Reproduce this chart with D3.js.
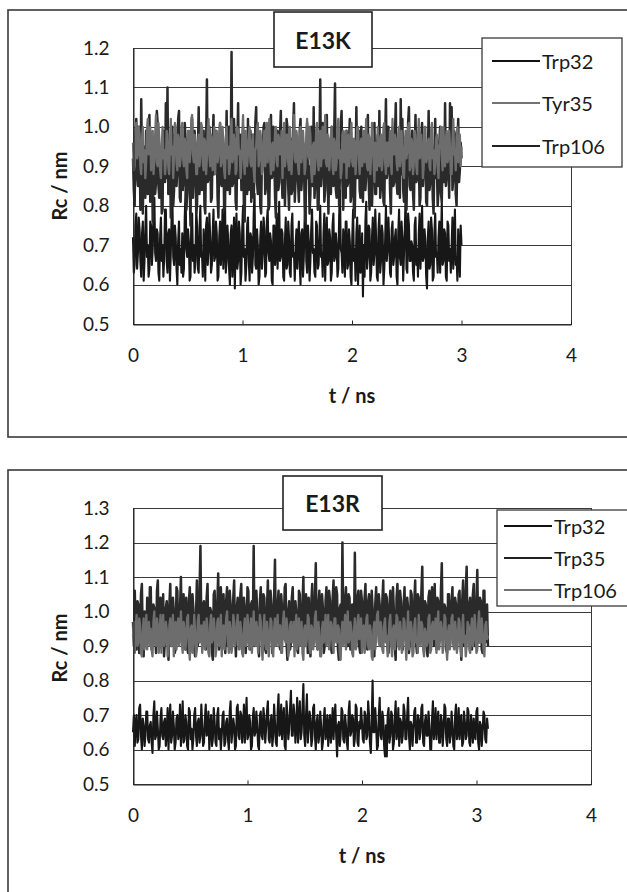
<!DOCTYPE html>
<html><head><meta charset="utf-8">
<script src="https://cdn.jsdelivr.net/npm/d3@7"></script>
<style>body{margin:0;background:#fff}svg{display:block}text{font-family:"Lato","Open Sans",sans-serif;fill:#1a1a1a}</style>
</head><body>
<script>
// ---- data (Rc / nm, sampled evenly in t / ns) ----
const xTicks = [0, 1, 2, 3, 4];
const yTicksTop = [0.5, 0.6, 0.7, 0.8, 0.9, 1.0, 1.1, 1.2];
const yTicksBottom = [0.5, 0.6, 0.7, 0.8, 0.9, 1.0, 1.1, 1.2, 1.3];
const tEndTop = 3.0;
const tEndBottom = 3.1;
const namesTop = ["Trp32", "Tyr35", "Trp106"];
const namesBottom = ["Trp32", "Trp35", "Trp106"];

const e13kTrp32 = [
0.72,0.63,0.65,0.75,0.78,0.64,0.68,0.77,0.74,0.66,0.62,0.73,0.76,0.61,0.66,0.74,0.80,0.67,0.70,0.62,
0.64,0.76,0.75,0.65,0.69,0.78,0.82,0.68,0.66,0.74,0.73,0.63,0.61,0.72,0.77,0.66,0.70,0.62,0.67,0.79,
0.79,0.66,0.63,0.73,0.74,0.61,0.68,0.77,0.81,0.67,0.65,0.75,0.72,0.64,0.60,0.71,0.76,0.65,0.69,0.63,
0.73,0.62,0.64,0.77,0.84,0.69,0.67,0.74,0.71,0.61,0.62,0.76,0.78,0.66,0.70,0.63,0.66,0.79,0.75,0.64,
0.63,0.74,0.80,0.67,0.68,0.62,0.74,0.70,0.61,0.75,0.77,0.65,0.69,0.78,0.72,0.63,0.65,0.73,0.79,0.66,
0.67,0.76,0.73,0.61,0.62,0.72,0.76,0.65,0.70,0.79,0.64,0.70,0.82,0.63,0.66,0.75,0.71,0.64,0.60,0.73,
0.75,0.62,0.68,0.77,0.59,0.71,0.78,0.64,0.66,0.76,0.73,0.60,0.63,0.74,0.80,0.67,0.69,0.61,0.65,0.75,
0.77,0.66,0.61,0.73,0.72,0.63,0.67,0.78,0.83,0.65,0.64,0.74,0.70,0.60,0.62,0.72,0.76,0.64,0.68,0.77,
0.74,0.62,0.63,0.76,0.79,0.68,0.66,0.73,0.71,0.61,0.60,0.75,0.75,0.65,0.69,0.78,0.64,0.70,0.81,0.66,
0.67,0.74,0.73,0.62,0.61,0.71,0.77,0.64,0.65,0.76,0.72,0.63,0.62,0.75,0.78,0.67,0.68,0.61,0.70,0.74,
0.64,0.72,0.76,0.65,0.60,0.73,0.74,0.62,0.67,0.77,0.82,0.66,0.63,0.75,0.71,0.61,0.66,0.74,0.79,0.68,
0.69,0.63,0.62,0.76,0.75,0.64,0.65,0.72,0.80,0.67,0.68,0.62,0.73,0.78,0.61,0.70,0.77,0.65,0.66,0.74,
0.72,0.61,0.63,0.75,0.78,0.66,0.67,0.73,0.70,0.62,0.64,0.77,0.84,0.69,0.68,0.63,0.74,0.71,0.62,0.76,
0.76,0.64,0.65,0.74,0.71,0.62,0.60,0.72,0.79,0.66,0.69,0.61,0.73,0.77,0.60,0.68,0.75,0.63,0.66,0.73,
0.57,0.70,0.62,0.76,0.81,0.64,0.67,0.75,0.74,0.61,0.63,0.72,0.77,0.65,0.68,0.79,0.72,0.62,0.61,0.74,
0.78,0.63,0.66,0.75,0.73,0.60,0.64,0.71,0.80,0.66,0.69,0.77,0.71,0.63,0.62,0.74,0.76,0.65,0.67,0.72,
0.74,0.62,0.60,0.73,0.79,0.67,0.65,0.76,0.72,0.61,0.68,0.74,0.83,0.64,0.63,0.78,0.75,0.66,0.66,0.71,
0.70,0.63,0.61,0.75,0.77,0.65,0.69,0.62,0.73,0.78,0.64,0.70,0.80,0.66,0.67,0.74,0.71,0.62,0.59,0.72,
0.76,0.64,0.65,0.77,0.74,0.61,0.62,0.73,0.78,0.67,0.68,0.63,0.72,0.76,0.63,0.70,0.81,0.65,0.66,0.74,
0.73,0.62,0.61,0.76,0.75,0.66,0.69,0.63,0.70,0.77,0.64,0.71,0.79,0.65,0.67,0.61,0.74,0.68,0.62,0.75,
0.70];

const e13kTrp106 = [
0.92,0.84,0.80,0.97,1.02,0.88,0.85,1.00,0.96,0.79,1.07,0.91,0.78,0.95,0.90,0.82,0.99,0.87,0.83,1.01,
1.03,0.81,0.88,0.96,0.76,0.90,0.95,0.83,0.86,1.04,1.01,0.85,0.82,0.94,0.93,0.78,0.79,0.99,0.98,0.86,
1.06,0.87,1.10,0.83,0.91,0.97,0.77,0.92,1.00,0.80,0.84,0.98,0.94,0.85,0.89,1.02,1.04,0.82,0.81,0.95,
0.97,0.84,0.86,1.01,0.97,0.79,0.83,0.93,0.92,0.86,0.75,0.96,1.02,0.82,0.88,0.99,0.95,0.78,0.80,0.94,
1.05,0.83,0.91,0.98,0.84,0.89,0.99,0.80,0.78,0.95,1.12,0.86,0.87,1.00,0.93,0.81,0.82,0.96,1.03,0.88,
0.89,0.99,0.96,0.82,0.77,0.93,1.01,0.86,0.85,0.97,0.94,0.79,0.80,0.91,1.04,0.84,0.88,1.00,0.83,0.92,
1.19,0.85,0.86,1.02,0.97,0.81,0.79,0.95,1.06,0.87,0.90,0.98,0.84,0.92,1.00,0.80,0.76,0.96,0.93,0.83,
1.02,0.84,0.87,0.99,0.81,0.94,0.98,0.82,0.89,1.01,1.05,0.86,0.83,0.97,0.95,0.80,0.78,0.93,0.91,1.00,
1.01,0.83,0.85,0.97,0.96,0.79,0.80,0.94,1.03,0.87,0.88,1.00,0.92,0.82,0.77,0.95,0.99,0.84,0.86,0.98,
1.04,0.88,0.82,0.96,0.94,0.80,0.89,1.02,1.00,0.85,0.79,0.93,0.97,0.83,0.84,0.99,1.06,0.81,0.87,0.95,
0.93,0.86,0.81,0.99,1.02,0.84,0.88,0.96,0.95,0.80,0.76,0.92,1.01,0.87,0.90,0.78,0.83,1.00,0.98,0.85,
1.05,0.82,0.86,0.97,0.92,0.79,0.80,0.94,1.12,0.85,0.89,1.01,0.96,0.81,0.84,0.98,1.03,0.87,0.78,0.93,
0.94,0.83,1.00,0.86,0.85,0.98,1.11,0.84,0.82,0.95,0.97,0.80,0.88,1.01,1.04,0.86,0.79,0.92,0.93,0.82,
0.99,0.85,0.86,0.96,1.02,0.81,0.83,0.94,0.95,0.79,0.77,0.91,1.05,0.87,0.90,0.99,0.84,0.82,1.00,0.88,
0.81,0.93,0.96,0.84,0.88,0.99,1.03,0.86,0.79,0.92,0.94,0.80,0.87,0.97,1.01,0.83,0.83,0.95,0.98,0.85,
1.04,0.82,0.85,0.97,0.92,0.81,0.80,0.96,1.07,0.87,0.89,1.00,0.95,0.84,0.78,0.93,1.00,0.85,0.86,0.98,
1.06,0.86,0.83,0.95,0.97,0.82,1.07,0.88,1.02,0.84,0.81,0.96,0.94,0.79,0.90,1.01,1.05,0.85,0.84,0.93,
0.99,0.83,0.79,0.94,1.03,0.86,0.87,0.98,0.93,0.80,0.82,0.97,1.01,0.85,0.89,0.95,0.96,0.81,0.80,0.92,
1.04,0.84,0.86,0.99,0.95,0.82,0.78,0.93,1.02,0.87,0.90,0.80,0.84,0.96,1.00,0.83,0.81,0.94,0.97,0.86,
1.06,0.85,0.88,0.97,0.93,0.82,1.06,0.90,1.05,0.84,0.87,0.99,0.98,0.83,0.80,0.94,1.02,0.86,0.89,0.96,
0.92];

const e13kTyr35 = [
0.96,0.89,0.90,0.99,1.01,0.92,0.93,1.00,0.98,0.90,0.88,0.97,1.00,0.91,0.94,0.87,0.91,0.99,1.02,0.93,
0.95,1.00,0.89,0.96,0.99,0.88,0.92,0.98,1.03,0.91,0.90,1.01,0.97,0.89,0.87,0.95,1.00,0.92,0.94,0.88,
0.91,0.99,0.98,0.90,0.88,0.96,1.02,0.93,0.95,0.87,0.93,1.01,1.00,0.91,0.89,0.98,0.97,0.90,0.92,1.00,
1.01,0.92,0.90,0.97,0.96,0.89,0.87,0.99,0.99,0.91,0.94,1.02,1.03,0.93,0.91,0.98,0.95,0.88,0.88,0.96,
0.98,0.90,0.93,1.01,1.00,0.91,0.89,0.97,0.96,0.88,0.92,0.99,1.02,0.93,0.90,0.98,0.97,0.89,0.94,1.00,
0.88,0.95,0.99,0.91,0.93,0.98,1.01,0.90,0.91,1.00,0.96,0.89,0.87,0.97,1.00,0.92,0.95,0.88,0.90,0.99,
1.02,0.91,0.92,0.98,0.97,0.88,0.89,1.00,0.99,0.93,0.94,0.87,0.91,0.97,1.03,0.92,0.88,0.99,0.96,0.90,
0.93,0.98,1.00,0.91,0.90,0.96,0.98,0.89,0.86,0.94,0.95,1.00,1.01,0.90,0.92,0.99,0.97,0.88,0.89,0.96,
0.99,0.90,0.94,1.01,0.91,0.97,1.02,0.92,0.88,0.95,0.96,0.89,0.93,0.99,1.00,0.91,0.90,0.98,0.97,0.93,
0.95,0.99,0.87,0.94,1.01,0.90,0.92,0.98,0.98,0.91,0.89,1.00,0.96,0.88,0.94,0.97,1.03,0.92,0.91,0.99,
0.97,0.90,0.88,0.96,1.00,0.91,0.93,0.99,0.95,0.88,0.90,0.97,1.02,0.93,0.92,1.00,0.98,0.89,0.86,0.95,
0.96,0.88,0.91,0.99,1.01,0.92,0.89,0.97,0.99,0.90,0.94,1.00,0.92,0.96,1.03,0.91,0.90,0.98,0.97,0.89,
0.93,0.98,1.00,0.90,0.88,0.97,0.96,0.89,0.91,1.00,1.02,0.92,0.94,0.87,0.89,0.98,0.99,0.91,0.95,0.99,
0.87,0.95,0.98,0.90,0.92,0.99,1.01,0.91,0.90,0.97,0.96,0.88,0.93,1.00,1.00,0.92,0.88,0.96,0.97,0.90,
0.94,0.99,0.91,0.97,1.02,0.90,0.89,0.98,0.97,0.88,0.93,1.01,0.99,0.91,0.86,0.96,0.95,0.89,1.00,0.93,
0.90,0.97,0.98,0.89,0.92,1.00,1.01,0.91,0.88,0.96,0.96,0.90,0.94,0.99,0.91,0.88,1.02,0.94,0.93,0.98,
0.97,0.91,0.89,0.98,1.00,0.90,0.92,0.99,0.95,0.88,0.87,0.96,0.99,0.92,0.94,1.00,1.01,0.89,0.90,0.97,
0.96,0.88,0.91,0.99,0.98,0.90,0.88,0.97,1.02,0.92,0.93,0.98,0.95,0.87,0.90,1.00,1.00,0.91,0.92,0.96,
0.97,0.90,0.89,0.99,1.01,0.92,0.94,0.88,0.91,0.97,0.98,0.90,0.87,0.95,0.96,1.00,0.93,0.89,1.00,0.92,
0.90,0.97,0.99,0.91,0.92,0.99,0.95,0.88,0.88,0.96,1.02,0.93,0.94,0.89,0.97,1.00,0.91,0.94,0.98,0.90,
0.95];

const e13rTrp32 = [
0.65,0.70,0.61,0.68,0.70,0.62,0.63,0.72,0.73,0.64,0.60,0.69,0.67,0.61,0.64,0.71,0.71,0.63,0.62,0.67,
0.68,0.62,0.59,0.70,0.74,0.63,0.64,0.71,0.66,0.60,0.61,0.69,0.72,0.64,0.63,0.68,0.69,0.61,0.65,0.72,
0.60,0.68,0.73,0.62,0.64,0.71,0.67,0.60,0.62,0.69,0.70,0.63,0.65,0.73,0.61,0.67,0.74,0.62,0.63,0.70,
0.68,0.61,0.60,0.72,0.71,0.63,0.66,0.60,0.63,0.70,0.72,0.64,0.61,0.68,0.69,0.62,0.64,0.73,0.67,0.61,
0.62,0.69,0.73,0.64,0.65,0.71,0.60,0.67,0.70,0.61,0.63,0.72,0.68,0.62,0.61,0.70,0.72,0.63,0.66,0.60,
0.64,0.70,0.71,0.61,0.62,0.68,0.69,0.63,0.60,0.71,0.74,0.62,0.65,0.69,0.67,0.60,0.61,0.72,0.73,0.64,
0.63,0.71,0.70,0.62,0.66,0.73,0.62,0.68,0.75,0.63,0.64,0.70,0.68,0.60,0.61,0.69,0.72,0.64,0.65,0.71,
0.67,0.61,0.60,0.70,0.71,0.64,0.63,0.72,0.69,0.62,0.66,0.71,0.74,0.63,0.62,0.68,0.70,0.61,0.64,0.73,
0.68,0.62,0.61,0.71,0.76,0.64,0.65,0.73,0.63,0.69,0.72,0.61,0.60,0.74,0.70,0.63,0.66,0.72,0.77,0.64,
0.64,0.73,0.70,0.62,0.67,0.75,0.62,0.69,0.74,0.63,0.65,0.72,0.79,0.64,0.61,0.70,0.76,0.62,0.66,0.71,
0.69,0.61,0.63,0.72,0.73,0.64,0.60,0.68,0.70,0.62,0.64,0.71,0.67,0.60,0.62,0.69,0.72,0.63,0.65,0.70,
0.61,0.67,0.70,0.62,0.66,0.72,0.63,0.69,0.73,0.64,0.58,0.67,0.68,0.61,0.64,0.72,0.71,0.63,0.62,0.70,
0.67,0.62,0.60,0.71,0.74,0.64,0.65,0.70,0.69,0.61,0.63,0.73,0.72,0.62,0.61,0.68,0.66,0.72,0.68,0.63,
0.62,0.71,0.70,0.63,0.64,0.74,0.70,0.62,0.59,0.68,0.80,0.65,0.65,0.72,0.67,0.60,0.61,0.70,0.75,0.64,
0.63,0.71,0.69,0.61,0.58,0.67,0.58,0.70,0.72,0.62,0.64,0.71,0.70,0.60,0.62,0.69,0.74,0.63,0.65,0.72,
0.61,0.69,0.68,0.62,0.64,0.73,0.71,0.63,0.63,0.70,0.75,0.64,0.60,0.68,0.67,0.61,0.66,0.71,0.72,0.62,
0.62,0.70,0.69,0.63,0.65,0.72,0.73,0.62,0.61,0.68,0.70,0.64,0.64,0.71,0.67,0.60,0.60,0.69,0.74,0.63,
0.66,0.72,0.63,0.68,0.71,0.62,0.62,0.70,0.68,0.61,0.65,0.73,0.72,0.63,0.61,0.69,0.69,0.62,0.64,0.71,
0.67,0.61,0.60,0.70,0.73,0.63,0.65,0.72,0.63,0.69,0.70,0.61,0.62,0.71,0.68,0.63,0.64,0.72,0.71,0.62,
0.61,0.70,0.66,0.62,0.69,0.64,0.63,0.71,0.72,0.62,0.60,0.68,0.67,0.61,0.65,0.71,0.70,0.63,0.62,0.69,
0.66];

const e13rTrp35 = [
0.97,0.90,1.06,0.94,0.89,1.03,1.02,0.88,0.93,1.05,1.08,0.92,0.87,1.00,0.99,0.91,1.04,0.95,0.91,1.07,
1.07,0.89,0.94,1.02,1.01,0.93,0.88,1.06,1.09,0.91,0.96,1.04,0.90,0.98,1.05,0.87,0.92,1.01,1.03,0.95,
0.86,1.02,1.08,0.90,0.95,1.04,1.00,0.88,0.89,1.07,1.06,0.92,0.93,1.01,1.10,0.94,0.91,1.05,0.98,0.89,
1.04,0.91,0.88,1.03,1.07,0.93,0.94,1.05,1.01,0.89,0.87,0.99,1.09,0.90,0.96,1.06,1.19,0.95,0.92,1.02,
1.03,0.92,0.89,1.04,1.08,0.91,0.95,1.01,1.00,0.88,0.86,1.05,1.06,0.94,0.93,1.02,1.11,0.89,0.90,1.07,
0.98,0.92,1.05,0.96,0.88,1.03,1.07,0.90,0.94,1.06,1.02,0.89,0.91,1.04,1.09,0.93,0.87,1.01,1.04,0.95,
0.96,1.05,1.08,0.92,0.90,1.04,1.01,0.88,0.93,1.07,1.06,0.91,0.89,1.02,1.03,0.94,1.19,0.90,0.95,1.06,
1.00,0.91,0.87,1.03,1.07,0.95,0.92,1.05,1.04,0.89,0.88,1.01,1.09,0.93,0.94,1.06,1.02,0.88,0.90,1.04,
1.15,0.92,0.93,1.02,1.06,0.90,0.89,1.05,1.01,0.94,0.96,1.07,1.08,0.91,0.86,1.00,1.03,0.89,0.91,1.04,
1.07,0.93,0.95,1.03,1.00,0.89,0.88,1.06,1.05,0.91,0.92,1.02,1.10,0.94,0.90,1.05,0.98,0.88,1.04,0.92,
0.87,1.03,1.08,0.91,0.94,1.04,1.14,0.92,0.89,1.02,1.06,0.90,0.93,1.05,1.01,0.88,0.90,1.03,1.07,0.94,
0.96,1.06,1.03,0.90,0.88,1.04,1.09,0.93,0.92,1.07,1.05,0.89,0.86,1.01,1.02,0.91,1.20,0.95,0.94,1.03,
1.07,0.92,0.90,1.05,1.04,0.89,0.95,1.02,1.00,0.93,1.17,0.94,0.91,1.04,1.06,0.90,0.88,1.06,1.03,0.92,
0.97,1.04,1.08,0.91,0.89,1.03,1.05,0.92,0.93,1.06,1.01,0.88,0.87,1.02,1.07,0.94,0.94,1.05,1.02,0.90,
0.90,1.03,1.09,0.93,0.96,1.05,1.04,0.89,0.88,1.02,1.06,0.91,0.92,1.07,1.00,0.90,0.86,1.04,1.08,0.94,
0.95,1.06,1.03,0.90,0.89,1.02,1.07,0.92,0.93,1.04,1.01,0.88,0.91,1.06,1.05,0.93,0.97,1.03,1.09,0.91,
0.88,1.05,1.04,0.92,0.94,1.06,1.13,0.91,0.90,1.03,1.02,0.89,0.87,1.04,1.06,0.93,0.95,1.07,1.00,0.90,
1.08,0.94,0.89,1.04,1.03,0.91,0.92,1.06,1.14,0.93,0.96,1.02,1.01,0.89,0.88,1.05,1.05,0.92,0.93,1.03,
1.07,0.91,0.90,1.04,1.02,0.89,0.94,1.05,1.06,0.92,0.86,1.03,1.09,0.90,0.92,1.06,1.13,0.94,0.97,1.02,
1.04,0.92,0.89,1.05,1.08,0.90,0.95,1.03,1.12,0.93,0.91,1.04,1.03,0.89,0.88,1.06,1.06,0.91,0.93,1.02,
0.90];

const e13rTrp106 = [
0.93,0.97,0.88,0.95,0.99,0.90,0.91,0.98,0.96,0.88,0.87,0.94,0.98,0.89,0.92,0.99,0.89,0.96,0.97,0.90,
0.95,0.89,0.87,0.97,1.00,0.91,0.90,0.98,0.96,0.88,0.93,0.99,0.88,0.94,0.99,0.90,0.91,0.97,0.95,0.87,
0.89,0.96,0.98,0.90,0.92,0.99,0.87,0.95,0.97,0.89,0.94,0.98,0.90,0.93,1.00,0.91,0.88,0.97,0.95,0.89,
0.92,0.98,0.99,0.90,0.86,0.95,0.96,0.88,0.91,0.99,0.94,0.87,0.89,0.97,0.99,0.91,0.93,0.96,0.88,0.94,
0.97,0.89,0.90,0.98,0.95,0.88,0.87,0.96,0.99,0.91,0.92,0.98,0.95,0.87,0.89,0.97,0.98,0.90,0.91,0.99,
0.87,0.94,0.96,0.89,0.93,0.98,1.00,0.91,0.88,0.97,0.95,0.88,0.90,0.99,0.97,0.90,0.92,0.96,0.99,0.89,
0.89,0.97,0.94,0.88,0.87,0.95,0.98,0.90,0.91,0.99,0.96,0.89,0.93,0.98,0.88,0.94,1.00,0.91,0.90,0.97,
0.95,0.88,0.92,0.99,0.97,0.90,0.86,0.94,0.99,0.91,0.89,0.97,0.94,0.87,0.91,0.98,0.97,0.89,0.87,0.95,
0.98,0.90,0.93,0.99,0.90,0.96,0.96,0.88,0.88,0.97,1.00,0.92,0.91,0.98,0.95,0.87,0.89,0.96,0.97,0.91,
0.92,0.97,0.87,0.95,0.99,0.89,0.94,0.98,0.90,0.93,0.97,0.88,0.86,0.95,0.96,0.90,0.92,0.99,0.98,0.89,
0.88,0.96,0.95,0.89,0.91,0.98,1.00,0.90,0.89,0.97,0.93,0.87,0.87,0.95,0.97,0.91,0.94,0.99,0.90,0.93,
0.99,0.89,0.92,0.97,0.96,0.90,0.88,0.98,0.98,0.91,0.91,0.96,0.95,0.88,0.86,0.94,0.97,0.90,0.93,0.99,
0.89,0.96,1.00,0.91,0.92,0.97,0.95,0.88,0.87,0.94,0.98,0.89,0.90,0.97,0.99,0.92,0.93,0.98,0.88,0.95,
0.96,0.88,0.91,0.98,0.99,0.90,0.89,0.96,0.94,0.87,0.86,0.95,0.97,0.89,0.92,0.99,1.00,0.91,0.90,0.97,
0.95,0.89,0.88,0.96,0.98,0.91,0.93,0.87,0.91,0.97,0.99,0.90,0.87,0.95,0.96,0.89,0.92,0.99,0.98,0.90,
0.89,0.97,0.94,0.88,0.90,0.98,0.97,0.91,0.86,0.94,1.00,0.89,0.93,0.97,0.95,0.87,0.88,0.96,0.98,0.91,
0.92,0.88,0.99,0.93,0.90,0.97,0.96,0.89,0.87,0.95,0.94,0.90,0.91,0.98,0.99,0.88,0.89,0.96,0.97,0.92,
0.93,0.98,0.88,0.95,1.00,0.89,0.92,0.97,0.95,0.88,0.90,0.99,0.98,0.91,0.86,0.94,0.96,0.89,0.91,0.98,
0.99,0.90,0.89,0.97,0.94,0.88,0.92,0.98,0.97,0.90,0.87,0.95,0.99,0.91,0.93,0.87,0.90,0.97,0.96,0.89,
0.88,0.95,0.98,0.90,0.92,0.99,0.95,0.88,0.89,0.96,1.00,0.91,0.91,0.98,0.94,0.89,0.87,0.96,0.97,0.92,
0.93];

// ---- drawing ----
const W = 627, H = 892;
const svg = d3.select("body").append("svg").attr("width", W).attr("height", H);

const ink = "#1f1f1f";
const seriesStyle = {
  black: {stroke: "#171717", width: 2.1},
  dark: {stroke: "#2a2a2a", width: 2.5},
  gray: {stroke: "#6d6d6d", width: 2.3}
};

function panel(cfg) {
  const g = svg.append("g");
  // outer chart box
  g.append("rect").attr("x", cfg.box[0]).attr("y", cfg.box[1])
    .attr("width", cfg.box[2]).attr("height", cfg.box[3])
    .attr("fill", "none").attr("stroke", "#3a3a3a").attr("stroke-width", 1.6);

  const x = d3.scaleLinear().domain([0, 4]).range([cfg.plot.left, cfg.plot.right]);
  const y = d3.scaleLinear().domain(d3.extent(cfg.yTicks)).range([cfg.plot.bottom, cfg.plot.top]);
  const yTop = Math.round(y(cfg.yTicks[cfg.yTicks.length - 1])) + 0.5;
  const yBot = Math.round(y(cfg.yTicks[0])) + 0.5;

  // gridlines
  g.append("g").selectAll("line").data(cfg.yTicks).join("line")
    .attr("x1", x(0)).attr("x2", x(4)).attr("y1", d => Math.round(y(d)) + 0.5).attr("y2", d => Math.round(y(d)) + 0.5)
    .attr("stroke", "#3a3a3a").attr("stroke-width", 1);

  // plot area border
  g.append("rect").attr("x", x(0) + 0.5).attr("y", yTop)
    .attr("width", x(4) - x(0)).attr("height", yBot - yTop)
    .attr("fill", "none").attr("stroke", "#3a3a3a").attr("stroke-width", 1);

  // series
  cfg.series.forEach(s => {
    const step = cfg.tEnd / (s.values.length - 1);
    const pts = s.values.map((v, i) => [i * step, v]);
    const st = seriesStyle[s.style];
    g.append("path").datum(pts)
      .attr("fill", "none").attr("stroke", st.stroke).attr("stroke-width", st.width)
      .attr("stroke-linejoin", "round")
      .attr("d", d3.line().x(d => x(d[0])).y(d => y(d[1])));
  });

  // axes
  const xAxis = g.append("g").attr("transform", `translate(0,${yBot})`)
    .call(d3.axisBottom(x).tickValues(xTicks).tickSize(-4).tickPadding(24).tickFormat(d3.format("d")));
  xAxis.select(".domain").attr("stroke", "#222");
  xAxis.selectAll(".tick line").attr("stroke", "#222");
  xAxis.selectAll("text").attr("font-size", 19).attr("fill", ink).style("font-family", "Lato");

  const yAxis = g.append("g").attr("transform", `translate(${x(0) + 0.5},0)`)
    .call(d3.axisLeft(y).tickValues(cfg.yTicks).tickSize(0).tickPadding(24).tickFormat(d3.format(".1f")));
  yAxis.select(".domain").attr("stroke", "#222");
  yAxis.selectAll("text").attr("font-size", 19).attr("fill", ink).style("font-family", "Lato");

  // axis titles
  g.append("text").attr("x", cfg.xTitle[0]).attr("y", cfg.xTitle[1]).attr("text-anchor", "middle")
    .attr("dominant-baseline", "central").attr("font-size", 20).attr("font-weight", "bold").text("t / ns");
  g.append("text").attr("transform", `translate(${cfg.yTitle[0]},${cfg.yTitle[1]}) rotate(-90)`)
    .attr("text-anchor", "middle").attr("dominant-baseline", "central")
    .attr("font-size", 20).attr("font-weight", "bold").text("Rc / nm");

  // title box
  const tb = cfg.titleBox;
  g.append("rect").attr("x", tb[0]).attr("y", tb[1]).attr("width", tb[2]).attr("height", tb[3])
    .attr("fill", "#fff").attr("stroke", "#222").attr("stroke-width", 1.6);
  g.append("text").attr("x", tb[0] + tb[2] / 2).attr("y", tb[1] + tb[3] / 2).attr("text-anchor", "middle")
    .attr("dominant-baseline", "central").attr("font-size", 23).attr("font-weight", "bold").text(cfg.title);

  // legend
  const lb = cfg.legendBox;
  g.append("rect").attr("x", lb[0]).attr("y", lb[1]).attr("width", lb[2]).attr("height", lb[3])
    .attr("fill", "#fff").attr("stroke", "#3a3a3a").attr("stroke-width", 1.3);
  cfg.legend.forEach((e, i) => {
    const ly = cfg.legendRows[i];
    g.append("line").attr("x1", cfg.legendLine[0]).attr("x2", cfg.legendLine[1]).attr("y1", ly).attr("y2", ly)
      .attr("stroke", e.color).attr("stroke-width", e.w);
    g.append("text").attr("x", cfg.legendLine[1] + 2).attr("y", ly).attr("dominant-baseline", "central")
      .attr("font-size", 20).text(e.name);
  });
}

panel({
  box: [8, 10, 640, 427],
  plot: {left: 133, right: 571, top: 48, bottom: 324},
  yTicks: yTicksTop,
  tEnd: tEndTop,
  series: [
    {values: e13kTrp32, style: "black"},
    {values: e13kTrp106, style: "dark"},
    {values: e13kTyr35, style: "gray"}
  ],
  xTitle: [352, 395],
  yTitle: [59, 186],
  title: "E13K",
  titleBox: [274, 12, 98, 55],
  legendBox: [482, 38, 140, 129],
  legendRows: [61, 103, 146],
  legendLine: [492, 540],
  legend: [
    {name: namesTop[0], color: "#111", w: 2.2},
    {name: namesTop[1], color: "#444", w: 1.3},
    {name: namesTop[2], color: "#222", w: 1.8}
  ]
});

panel({
  box: [8, 470, 640, 440],
  plot: {left: 133, right: 591, top: 508, bottom: 784},
  yTicks: yTicksBottom,
  tEnd: tEndBottom,
  series: [
    {values: e13rTrp32, style: "black"},
    {values: e13rTrp35, style: "dark"},
    {values: e13rTrp106, style: "gray"}
  ],
  xTitle: [362, 855],
  yTitle: [59, 648],
  title: "E13R",
  titleBox: [283, 476, 99, 54],
  legendBox: [497, 510, 140, 96],
  legendRows: [526, 558, 590],
  legendLine: [504, 552],
  legend: [
    {name: namesBottom[0], color: "#111", w: 2.2},
    {name: namesBottom[1], color: "#222", w: 1.8},
    {name: namesBottom[2], color: "#444", w: 1.3}
  ]
});
</script>
</body></html>
